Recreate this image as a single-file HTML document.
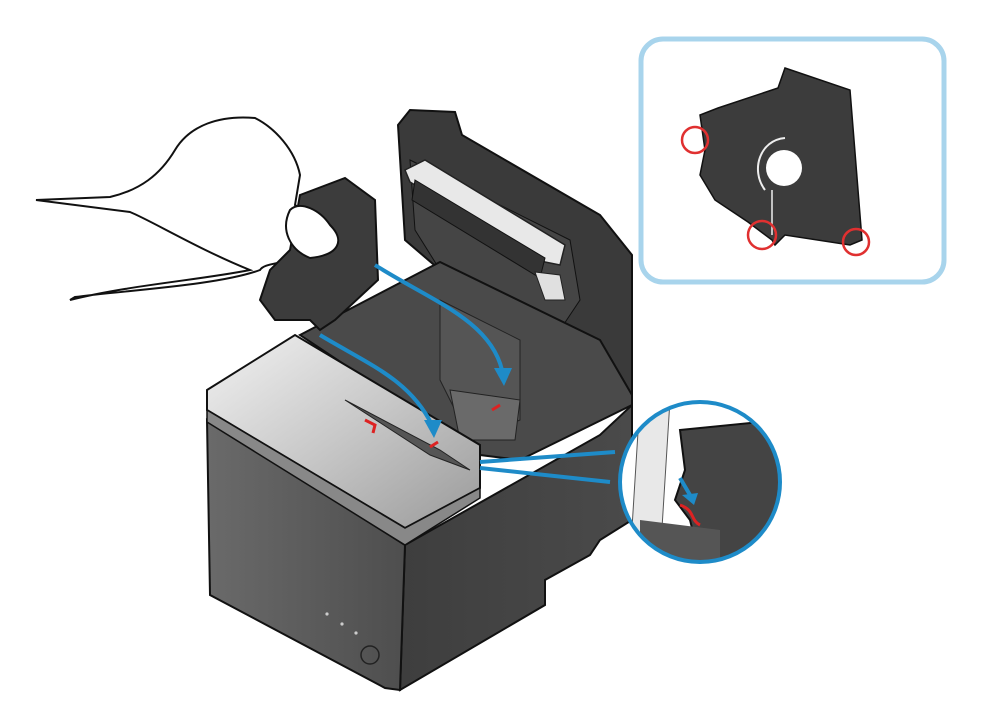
<!DOCTYPE html>
<html><head><meta charset="utf-8"><style>html,body{margin:0;padding:0;background:#fff}svg{display:block}</style></head>
<body>
<svg width="1000" height="720" viewBox="0 0 1000 720" xmlns="http://www.w3.org/2000/svg">
<defs>
<linearGradient id="lid" x1="0" y1="0" x2="1" y2="1">
<stop offset="0" stop-color="#f2f2f2"/><stop offset="0.5" stop-color="#c8c8c8"/><stop offset="1" stop-color="#9a9a9a"/></linearGradient>
<linearGradient id="front" x1="0" y1="0" x2="1" y2="0">
<stop offset="0" stop-color="#6a6a6a"/><stop offset="1" stop-color="#4e4e4e"/></linearGradient>
<linearGradient id="side" x1="0" y1="0" x2="1" y2="0">
<stop offset="0" stop-color="#3e3e3e"/><stop offset="1" stop-color="#4a4a4a"/></linearGradient>
<clipPath id="cc"><circle cx="700" cy="482" r="80"/></clipPath>
</defs>

<!-- open cover -->
<path d="M398,125 L410,110 L455,112 L462,135 L600,215 L612,230 L632,255 L632,395 L590,400 L560,330 L440,270 L405,240 Z" fill="#3a3a3a" stroke="#111" stroke-width="2"/>
<path d="M410,160 L570,240 L580,300 L560,330 L440,270 L415,230 Z" fill="#454545" stroke="#111" stroke-width="1"/>
<!-- roller -->
<path d="M405,170 L425,160 L565,245 L560,265 L545,262 L410,182 Z" fill="#e8e8e8" stroke="#222" stroke-width="1.5"/>
<path d="M415,180 L545,258 L540,278 L412,200 Z" fill="#333" stroke="#111"/>
<path d="M535,272 L560,275 L565,300 L545,300 Z" fill="#e0e0e0" stroke="#222"/>
<!-- body interior -->
<path d="M300,335 L440,262 L600,340 L632,395 L632,405 L520,460 L480,455 Z" fill="#4a4a4a" stroke="#111" stroke-width="2"/>
<path d="M440,300 L520,340 L520,420 L470,440 L440,380 Z" fill="#555" stroke="#222"/>
<path d="M450,390 L520,400 L515,440 L460,440 Z" fill="#6a6a6a" stroke="#222"/>
<!-- right side face -->
<path d="M405,545 L600,435 L632,405 L632,520 L600,540 L590,555 L545,580 L545,605 L400,690 Z" fill="url(#side)" stroke="#111" stroke-width="2"/>
<!-- front face -->
<path d="M207,420 L405,545 L400,690 L385,688 L210,595 Z" fill="url(#front)" stroke="#111" stroke-width="2"/>
<circle cx="370" cy="655" r="9" fill="none" stroke="#222" stroke-width="1.5"/>
<circle cx="327" cy="614" r="1.6" fill="#ccc"/><circle cx="342" cy="624" r="1.6" fill="#ccc"/><circle cx="356" cy="633" r="1.6" fill="#ccc"/>
<!-- lid -->
<path d="M207,390 L295,335 L480,445 L480,488 L405,528 L207,410 Z" fill="url(#lid)" stroke="#111" stroke-width="2"/>
<path d="M207,410 L405,528 L480,488 L480,498 L405,545 L207,422 Z" fill="#888" stroke="#111" stroke-width="1.5"/>
<path d="M345,400 L440,450 L470,470 L430,455 Z" fill="#555" stroke="#222"/>
<path d="M365,420 l10,5 l-2,8" stroke="#d22" stroke-width="3" fill="none"/>
<path d="M430,447 l8,-5" stroke="#d22" stroke-width="3"/>
<path d="M492,410 l8,-5" stroke="#d22" stroke-width="3"/>
<!-- hand -->
<path d="M36,200 L110,197 C140,190 160,175 175,150 C190,125 220,115 255,118 C275,128 295,150 300,175 L295,205 C310,215 335,225 345,240 C340,255 320,260 300,255 C285,265 265,262 260,270 C220,285 130,290 75,297 L70,300 C130,285 200,280 250,270 C200,250 150,220 130,212 Z" fill="#fff" stroke="#111" stroke-width="2"/>
<!-- cover part in hand -->
<path d="M300,195 L345,178 L375,200 L378,280 L335,320 L320,330 L310,320 L275,320 L260,300 L270,270 L290,250 Z" fill="#3c3c3c" stroke="#111" stroke-width="2"/>
<path d="M290,210 C300,200 320,210 330,225 C345,240 340,255 310,258 C290,250 280,230 290,210 Z" fill="#fff" stroke="#111" stroke-width="2"/>
<!-- blue arrows -->
<g fill="none" stroke="#1e8bc8" stroke-width="4">
<path d="M320,335 C370,365 410,380 432,425"/>
<path d="M375,265 C430,300 490,320 502,370"/>
<path d="M480,462 L615,452"/><path d="M480,468 L610,482"/>
</g>
<g fill="#1e8bc8">
<path d="M424,420 L442,420 L434,438 Z"/><path d="M494,368 L512,368 L504,386 Z"/>
</g>
<!-- circle inset -->
<circle cx="700" cy="482" r="80" fill="#fff"/>
<g clip-path="url(#cc)">
<path d="M640,400 L670,400 L660,560 L630,560 Z" fill="#e8e8e8" stroke="#555"/>
<path d="M680,430 L780,420 L790,560 L700,560 L690,520 L675,500 L685,470 Z" fill="#444" stroke="#111" stroke-width="2"/>
<path d="M640,520 L720,530 L720,560 L640,560 Z" fill="#555"/>
<path d="M680,505 C695,510 690,520 700,525" stroke="#d22" stroke-width="3" fill="none"/>
<path d="M680,478 L690,495" stroke="#1e8bc8" stroke-width="4"/>
<path d="M682,495 L698,493 L694,505 Z" fill="#1e8bc8"/>
</g>
<circle cx="700" cy="482" r="80" fill="none" stroke="#1e8bc8" stroke-width="4"/>
<!-- top inset -->
<rect x="641" y="39" width="303" height="243" rx="22" fill="#fff" stroke="#a8d4ec" stroke-width="5"/>
<path d="M785,68 L850,90 L862,240 L850,245 L785,235 L775,245 L772,240 L748,222 L715,200 L700,175 L705,150 L700,115 L718,108 L778,88 Z" fill="#3c3c3c" stroke="#111" stroke-width="1.5"/>
<circle cx="784" cy="168" r="18" fill="#fff"/>
<path d="M765,190 C750,170 760,140 785,138" stroke="#eee" stroke-width="2" fill="none"/>
<path d="M772,190 L772,235" stroke="#eee" stroke-width="1.5"/>
<g fill="none" stroke="#e03030" stroke-width="2.5">
<circle cx="695" cy="140" r="13"/><circle cx="762" cy="235" r="14"/><circle cx="856" cy="242" r="13"/>
</g>
</svg>
</body></html>
